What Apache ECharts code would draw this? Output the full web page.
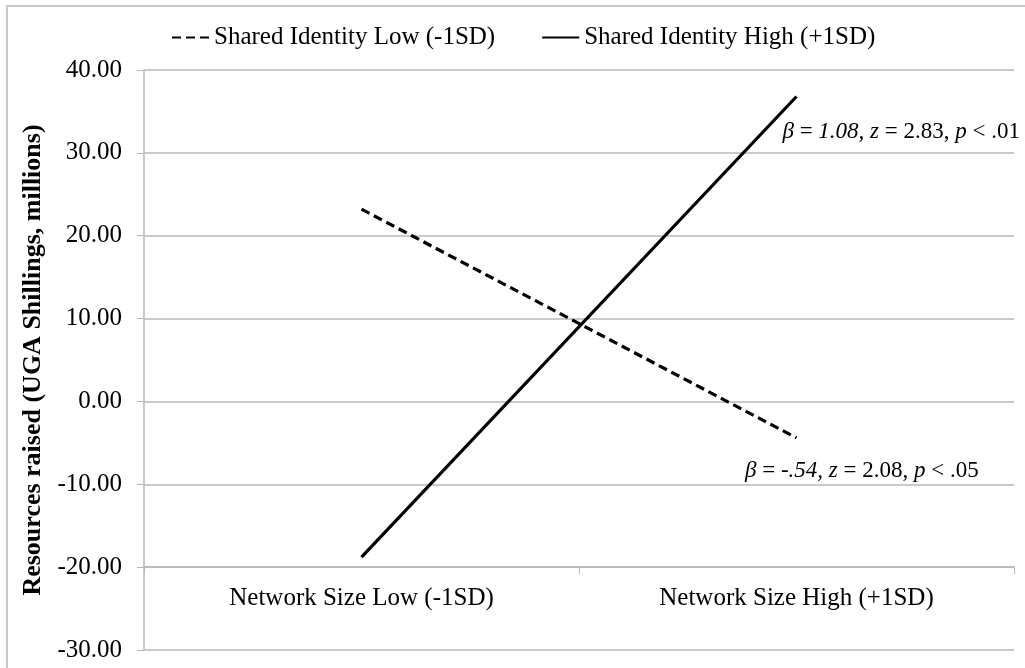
<!DOCTYPE html>
<html>
<head>
<meta charset="utf-8">
<script src="https://cdn.jsdelivr.net/npm/echarts@6/dist/echarts.min.js"></script>
<style>
  html, body { margin: 0; padding: 0; background: #fff; }
  #chart { width: 1025px; height: 668px; }
</style>
</head>
<body>
<div id="chart"></div>
<script>
const categories = ['Network Size Low (-1SD)', 'Network Size High (+1SD)'];
const identityLow = [23.2, -4.4];
const identityHigh = [-18.8, 36.8];
const seriesNames = ['Shared Identity Low (-1SD)', 'Shared Identity High (+1SD)'];
const yMin = -30, yMax = 40, yStep = 10;

const serif = '"Liberation Serif", "Times New Roman", serif';
const gridColor = '#b8b8b8';

const chart = echarts.init(document.getElementById('chart'));

chart.setOption({
    animation: false,
    textStyle: { fontFamily: serif, color: '#000' },
    legend: {
        left: 166,
        top: 20,
        itemWidth: 37,
        itemHeight: 14,
        itemGap: 46,
        itemStyle: { opacity: 0 },
        textStyle: { fontFamily: serif, fontSize: 25, color: '#000' },
        data: seriesNames
    },
    grid: { left: 144, right: 11, top: 70, bottom: 18 },
    xAxis: {
        type: 'category',
        data: categories,
        offset: -83,
        axisLine: { onZero: false, lineStyle: { color: gridColor, width: 1.5 } },
        axisTick: { show: true, length: 7, lineStyle: { color: gridColor } },
        axisLabel: { fontFamily: serif, fontSize: 25, color: '#000', margin: 19 }
    },
    yAxis: {
        type: 'value',
        min: yMin,
        max: yMax,
        interval: yStep,
        name: 'Resources raised (UGA Shillings, millions)',
        nameLocation: 'middle',
        nameGap: 86,
        nameTextStyle: { fontFamily: serif, fontSize: 26, fontWeight: 'bold', color: '#000' },
        axisLine: { show: true, lineStyle: { color: gridColor, width: 1.5 } },
        axisTick: { show: true, length: 7, lineStyle: { color: gridColor } },
        axisLabel: {
            fontFamily: serif, fontSize: 25, color: '#000', margin: 22,
            formatter: v => v.toFixed(2)
        },
        splitLine: { lineStyle: { color: gridColor, width: 1.5 } }
    },
    series: [
        {
            name: seriesNames[0],
            type: 'line',
            data: identityLow,
            symbol: 'none',
            lineStyle: { color: '#000', width: 3.2, type: [9, 5] },
            itemStyle: { color: '#000' }
        },
        {
            name: seriesNames[1],
            type: 'line',
            data: identityHigh,
            symbol: 'none',
            lineStyle: { color: '#000', width: 3.2 },
            itemStyle: { color: '#000' }
        }
    ],
    graphic: [
        {
            type: 'rect',
            shape: { x: 7, y: 6, width: 1100, height: 700 },
            style: { fill: 'none', stroke: '#c8c8c8', lineWidth: 2 },
            silent: true
        },
        {
            type: 'text',
            right: 5,
            top: 120,
            style: {
                text: '{i|β} = {i|1.08,} {i|z} = 2.83, {i|p} < .01',
                font: '23px ' + serif,
                fill: '#000',
                rich: { i: { fontStyle: 'italic', fontSize: 23, fontFamily: serif } }
            }
        },
        {
            type: 'text',
            left: 745,
            top: 459,
            style: {
                text: '{i|β} = {i|-.54,} {i|z} = 2.08, {i|p} < .05',
                font: '23px ' + serif,
                fill: '#000',
                rich: { i: { fontStyle: 'italic', fontSize: 23, fontFamily: serif } }
            }
        }
    ]
});
</script>
</body>
</html>
